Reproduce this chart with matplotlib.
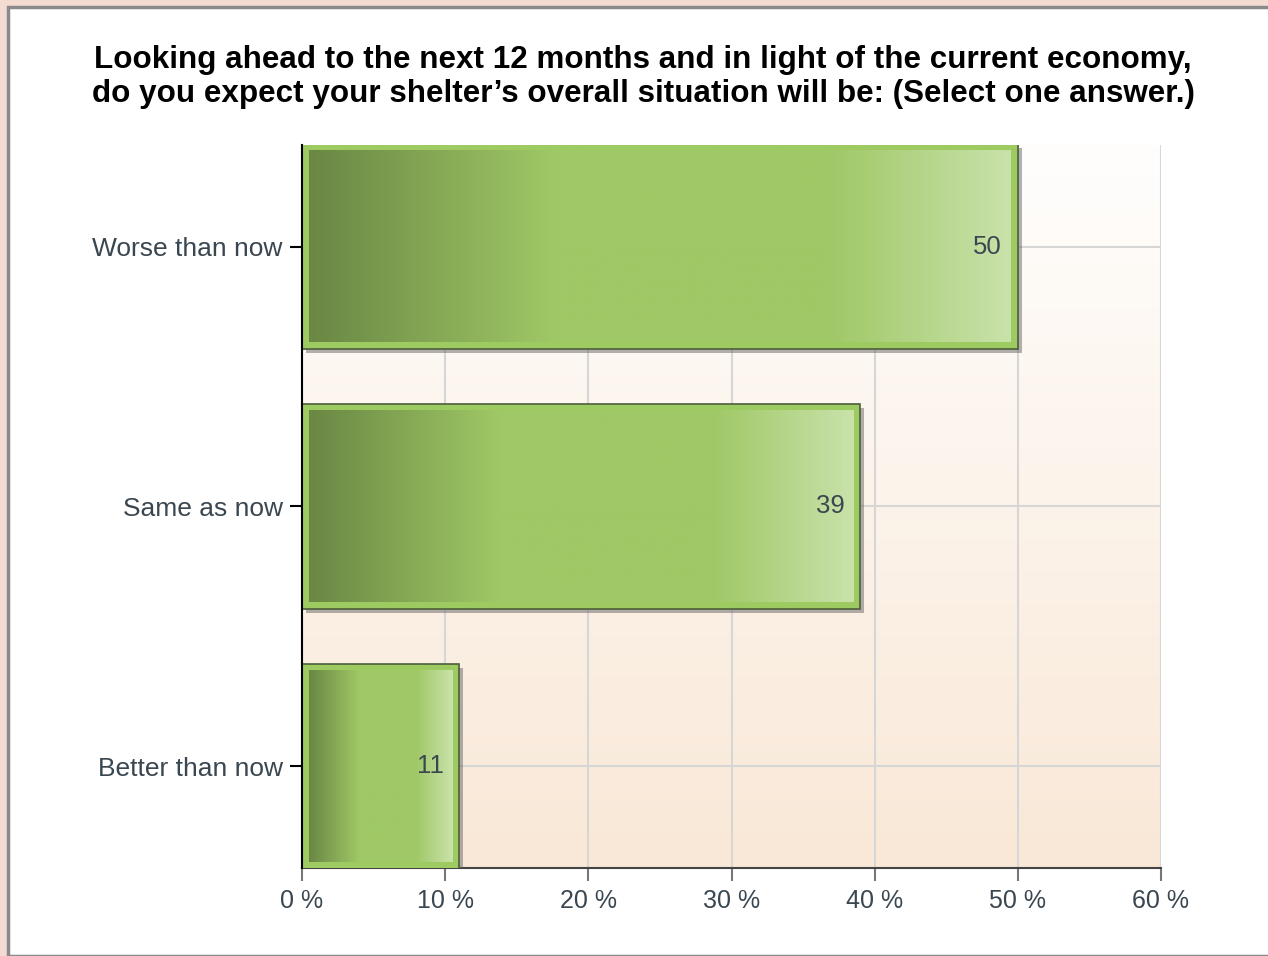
import numpy as np
import matplotlib
matplotlib.use('Agg')
import matplotlib.pyplot as plt
from matplotlib.patches import Rectangle
from matplotlib.colors import to_rgb

# survey answers, bottom to top
categories = ["Better than now", "Same as now", "Worse than now"]
values = [11, 39, 50]
xticks = [0, 10, 20, 30, 40, 50, 60]
xtick_labels = ["0 %", "10 %", "20 %", "30 %", "40 %", "50 %", "60 %"]
title = ("Looking ahead to the next 12 months and in light of the current economy,\n"
         "do you expect your shelter\u2019s overall situation will be: (Select one answer.)")

plt.rcParams['font.family'] = ['Liberation Sans', 'DejaVu Sans']

fig = plt.figure(figsize=(12.68, 9.56), dpi=100)
fig.patch.set_facecolor('#f4dcd3')
# white panel with grey frame
fig.patches.append(Rectangle((8 / 1268, 0), 1.0, 1 - 7 / 956, transform=fig.transFigure,
                             facecolor='white', edgecolor='#8a8a8a', linewidth=2.5, zorder=-5))

ax = fig.add_axes([302 / 1268, 1 - 868 / 956, 859 / 1268, 723 / 956])
ax.set_zorder(2)

# plot background gradient: white at top to peach at bottom
top = np.array(to_rgb('#fffefd'))
bot = np.array(to_rgb('#f9e8d7'))
t = np.linspace(0, 1, 256)[:, None]
bg = (top * (1 - t) + bot * t)[:, None, :]
ax.imshow(bg, extent=[0, 1, 0, 1], transform=ax.transAxes, aspect='auto', zorder=0)

ax.set_xticks(xticks)
ax.set_xticklabels(xtick_labels)
ax.set_yticks(range(len(categories)))
ax.set_yticklabels(categories)
ax.grid(True, color='#d6d6d6', linewidth=1.5, zorder=1)
ax.set_axisbelow(True)

# bar colour stops across the bar length
dark = np.array(to_rgb('#6a8744'))
mid = np.array(to_rgb('#9fc866'))
light = np.array(to_rgb('#c9e2aa'))
stops = [0.0, 0.35, 0.74, 1.0]
cols = [dark, mid, mid, light]
u = np.linspace(0, 1, 300)
grad = np.stack([np.interp(u, stops, [c[i] for c in cols]) for i in range(3)], axis=-1)[None, :, :]

px_x = 60 / 859
px_y = 2.786 / 723
h = 0.79
for i, v in enumerate(values):
    y0 = i - h / 2
    # drop shadow
    ax.add_patch(Rectangle((4 * px_x, y0 - 4 * px_y), v, h, facecolor='#666666',
                           alpha=0.5, edgecolor='none', zorder=3))
    ax.add_patch(Rectangle((0, y0), v, h, facecolor='#9dcb62', edgecolor='#4d5e3b',
                           linewidth=1.2, zorder=4))
    ax.imshow(grad, extent=[7 * px_x, v - 7 * px_x, y0 + 7 * px_y, y0 + h - 7 * px_y],
              aspect='auto', zorder=5, interpolation='bilinear')
    ax.text(v - 16 * px_x, i, str(v), ha='right', va='center', fontsize=18.5,
            color='#3a4650', zorder=6)

ax.set_xlim(0, 60)
ax.set_ylim(-0.393, 2.393)

for s in ['top', 'right']:
    ax.spines[s].set_visible(False)
ax.spines['left'].set_color('black')
ax.spines['left'].set_linewidth(1.5)
ax.spines['left'].set_zorder(7)
ax.spines['bottom'].set_color('#444444')
ax.spines['bottom'].set_linewidth(1.5)
ax.tick_params(axis='y', length=9, width=1.5, color='black', labelsize=19,
               labelcolor='#3a4650', pad=5)
ax.tick_params(axis='x', length=9, width=1.5, color='#777777', labelsize=18,
               labelcolor='#3a4650', pad=6)

fig.text(643 / 1268, 1 - 77 / 956, title, ha='center', va='center', fontsize=22.6,
         fontweight='bold', color='black', linespacing=1.17)

fig.savefig('out.png', dpi=100, facecolor=fig.get_facecolor())
